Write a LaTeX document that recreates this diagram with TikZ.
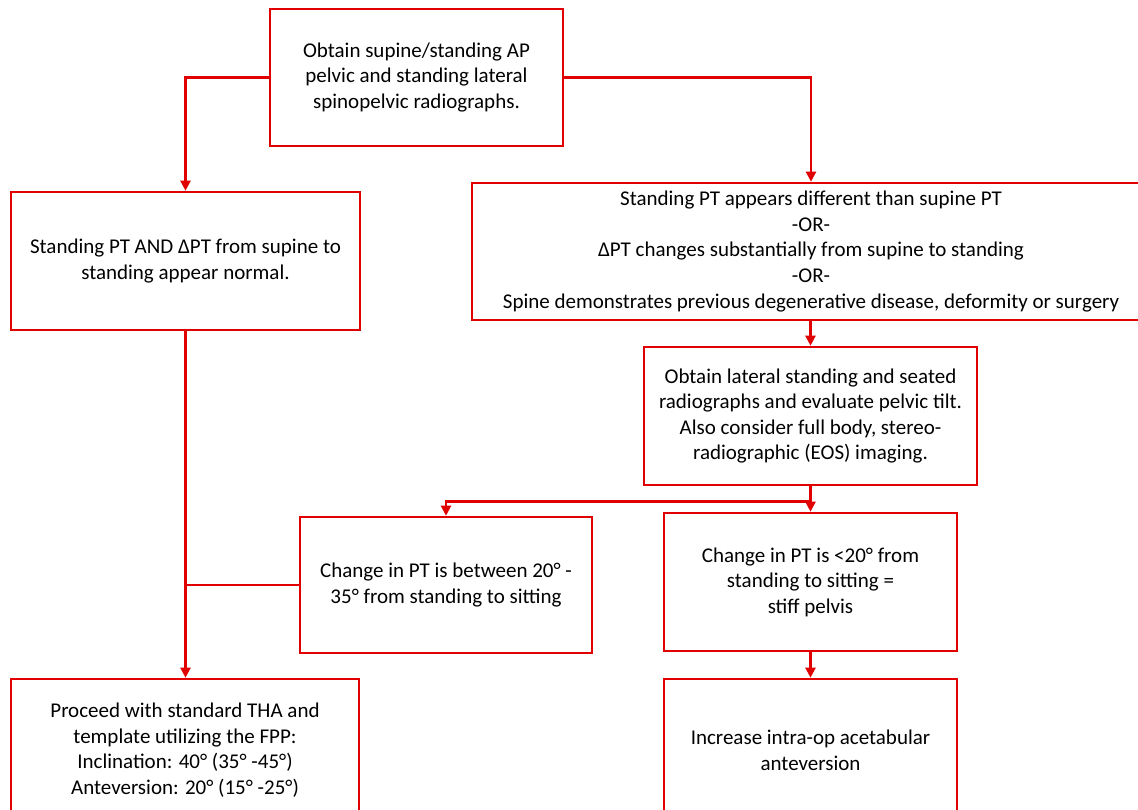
\documentclass[tikz,border=0pt]{standalone}
\usepackage{fontspec}
\setmainfont{Carlito}
\usetikzlibrary{arrows.meta, calc}
\definecolor{flowred}{HTML}{E00000}
\tikzset{
  BOX/.style={
    rectangle, draw=flowred, fill=white, text=black,
    font=\fontsize{21}{25.6}\selectfont, align=center,
    inner sep=4pt, line width=2.6pt
  },
  ARR/.style={-{Triangle[length=10pt,width=10pt]}, line width=2.2pt, color=flowred},
  LNK/.style={line width=2.2pt, color=flowred},
}
\begin{document}
\begin{tikzpicture}[x=1pt, y=-1pt]
  \useasboundingbox (0,0) rectangle (1138,810);
  \clip (0,0) rectangle (1138,810);
  \node[BOX, minimum width=293pt, minimum height=137pt] (obtain) at (416.5, 77.5)
    {Obtain supine/standing AP\\pelvic and standing lateral\\spinopelvic radiographs.};
  \node[BOX, minimum width=349pt, minimum height=138pt] (normal) at (185.5, 261)
    {Standing PT AND ΔPT from supine to\\standing appear normal.};
  \node[BOX, minimum width=678pt, minimum height=137pt] (differ) at (811, 251.5)
    {Standing PT appears different than supine PT\\-OR-\\ΔPT changes substantially from supine to standing\\-OR-\\Spine demonstrates previous degenerative disease, deformity or surgery};
  \node[BOX, minimum width=333pt, minimum height=138pt] (lateral) at (810.5, 416)
    {Obtain lateral standing and seated\\radiographs and evaluate pelvic tilt.\\Also consider full body, stereo-\\radiographic (EOS) imaging.};
  \node[BOX, minimum width=292pt, minimum height=136pt] (between) at (446, 585)
    {Change in PT is between 20° -\\35° from standing to sitting};
  \node[BOX, minimum width=293pt, minimum height=138pt] (stiff) at (810.5, 582)
    {Change in PT is <20° from\\standing to sitting =\\stiff pelvis};
  \node[BOX, minimum width=348pt, minimum height=142pt] (proceed) at (185, 750)
    {Proceed with standard THA and\\template utilizing the FPP:\\Inclination: 40° (35° -45°)\\Anteversion: 20° (15° -25°)};
  \node[BOX, minimum width=293pt, minimum height=142pt] (increase) at (810.5, 750)
    {Increase intra-op acetabular\\anteversion};
  \coordinate (split) at ($(lateral.south)!0.6!(stiff.north)$);
  \draw[ARR] (obtain.west) -| (normal.north);
  \draw[ARR] (obtain.east) -| (differ.north);
  \draw[ARR] (differ.south) -- (lateral.south |- differ.south) -- (lateral.north);
  \draw[ARR] (lateral.south) -- (stiff.north);
  \draw[ARR] (split) -| (between.north);
  \draw[ARR] (normal.south) -- (normal.south |- proceed.north);
  \draw[LNK] (between.west) -- (between.west -| normal.south);
  \draw[ARR] (stiff.south) -- (increase.north);
\end{tikzpicture}
\end{document}
